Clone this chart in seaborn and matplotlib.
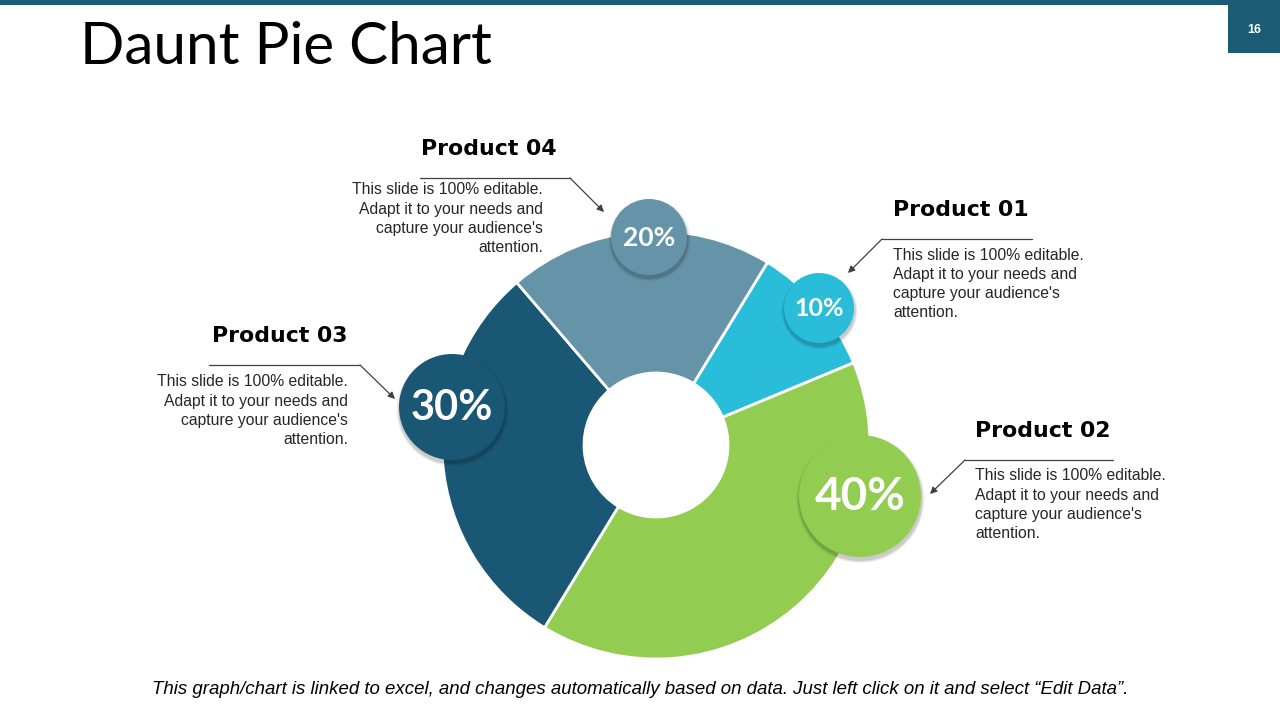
import matplotlib.pyplot as plt
import seaborn as sns
from matplotlib.patches import Circle, Rectangle

# Slide data
products = ["Product 01", "Product 02", "Product 03", "Product 04"]
shares = [10, 40, 30, 20]
pct_labels = ["10%", "40%", "30%", "20%"]
colors = ["#29BDD9", "#92CD52", "#1A5774", "#6594A9"]
body_lines = ["This slide is 100% editable.", "Adapt it to your needs and",
              "capture your audience's", "attention."]
title = "Daunt Pie Chart"
page_no = "16"
footer = ("This graph/chart is linked to excel, and changes automatically based on data. "
          "Just left click on it and select \u201cEdit Data\u201d.")

sns.set_theme(style="white")
plt.rcParams["font.family"] = ["Liberation Sans", "DejaVu Sans"]

fig = plt.figure(figsize=(12.8, 7.2), dpi=100)
ax = fig.add_axes([0, 0, 1, 1])


def Y(y):
    # pixel row (from top) -> axis y
    return 720 - y


# Donut
cx, cy = 656, Y(445)
ax.pie(shares, colors=colors, startangle=58.6, counterclock=False,
       radius=214, center=(cx, cy), frame=True,
       wedgeprops=dict(width=142, edgecolor="white", linewidth=2))
ax.set_xlim(0, 1280)
ax.set_ylim(0, 720)
ax.set_aspect("equal")
ax.axis("off")

# badges: (x, y, radius, fontsize) in product order
badges = [(819, 308, 35, 18), (860, 496, 61, 33), (452, 407, 53, 30), (649, 237, 38, 19)]
for (bx, by, br, fs), col, lab in zip(badges, colors, pct_labels):
    # soft shadow, mostly below the badge
    for k, a in [(3, 0.05), (2, 0.07), (1, 0.09)]:
        ax.add_patch(Circle((bx + 0.5, Y(by) - 3), br + k, color="black", alpha=a, zorder=4, lw=0))
    ax.add_patch(Circle((bx, Y(by)), br, color=col, zorder=5, lw=0))
    ax.text(bx, Y(by) - 1, lab, color="white", fontsize=fs, fontweight="bold",
            family=["Lato", "DejaVu Sans"], ha="center", va="center", zorder=6)

# Callouts: header pos, body first line, leader line (x0, x1, y), arrow tip
callouts = [
    dict(hx=893, hy=210, ha="left", bx=893, by=255, line=(1032, 882, 239), tip=(848, 273)),
    dict(hx=975, hy=431, ha="left", bx=975, by=476, line=(1113, 965, 460), tip=(930, 494)),
    dict(hx=348, hy=336, ha="right", bx=348, by=382, line=(209, 360, 365), tip=(395, 399)),
    dict(hx=421, hy=149, ha="left", bx=543, by=190, line=(420, 570, 178), tip=(604, 212)),
]
body_ha = ["left", "left", "right", "right"]
for name, c, bha in zip(products, callouts, body_ha):
    ax.text(c["hx"], Y(c["hy"]), name, fontsize=15.8, fontweight="bold", color="black",
            family=["DejaVu Sans"], ha=c["ha"], va="center")
    for i, line in enumerate(body_lines):
        ax.text(c["bx"], Y(c["by"] + 19.2 * i), line, fontsize=11.3, color="#262626",
                ha=bha, va="center")
    x0, x1, ly = c["line"]
    ax.plot([x0, x1], [Y(ly), Y(ly)], color="#404040", lw=0.9)
    ax.annotate("", xy=(c["tip"][0], Y(c["tip"][1])), xytext=(x1, Y(ly)),
                arrowprops=dict(arrowstyle="-|>", color="#404040", lw=0.9,
                                mutation_scale=10, shrinkA=0, shrinkB=0))

# Header decoration
ax.add_patch(Rectangle((0, Y(5)), 1280, 5, color="#1B5B74", lw=0))
ax.add_patch(Rectangle((1228, Y(53)), 52, 53, color="#1B5B74", lw=0))
ax.text(1254, Y(30), page_no, color="white", fontsize=9, fontweight="bold",
        ha="center", va="center")
ax.text(80, Y(47), title, fontsize=42, color="black",
        family=["Lato", "DejaVu Sans"], ha="left", va="center")

ax.text(640, Y(689), footer, fontsize=13.4, style="italic", color="black",
        ha="center", va="center")

plt.savefig("out.png", dpi=100)
plt.close()
